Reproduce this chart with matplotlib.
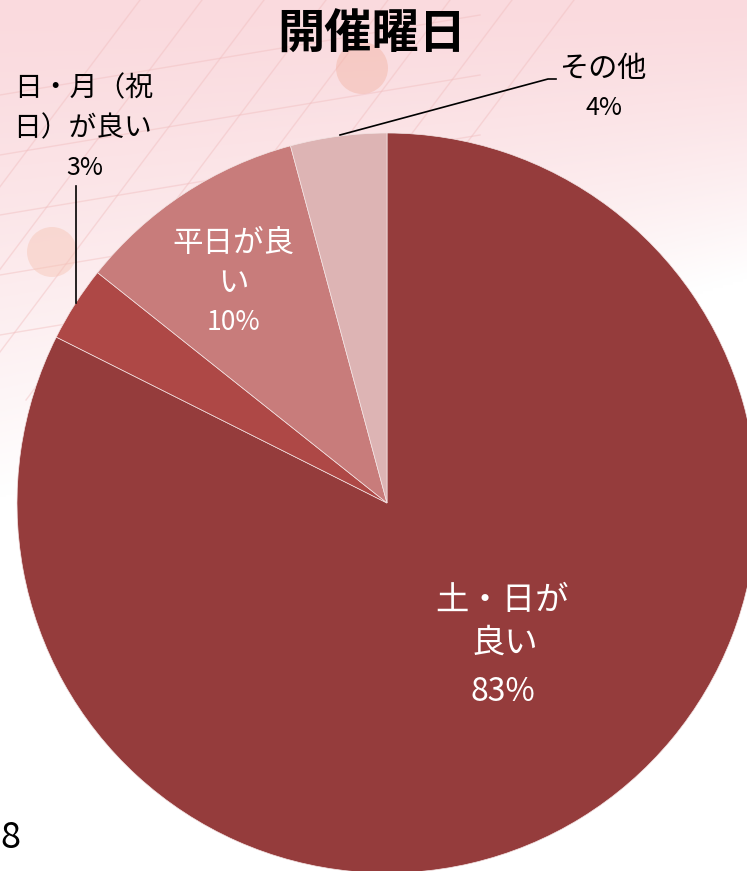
import numpy as np
import matplotlib
matplotlib.use("Agg")
import matplotlib.pyplot as plt
from matplotlib.patches import Circle

plt.rcParams['font.family'] = ['Noto Sans CJK JP', 'DejaVu Sans']

# data
labels = [['土・日が', '良い'], ['日・月（祝', '日）が良い'], ['平日が良', 'い'], ['その他']]
values = [82.4, 3.3, 10.1, 4.2]
pct_text = ['83%', '3%', '10%', '4%']
colors = ['#953C3C', '#AE4846', '#C87C7B', '#DDB4B4']
title = '開催曜日'

W, H = 747, 871
fig = plt.figure(figsize=(W / 100, H / 100), dpi=100)
ax = fig.add_axes([0, 0, 1, 1])

# background gradient (pink at top fading to white)
yy = np.linspace(0, 1, 300)[:, None]
xx = np.linspace(0, 1, 300)[None, :]
fade = np.clip(yy / (0.32 + 0.25 * (1 - xx)), 0, 1) ** 1.3
top = np.array([250, 218, 222]) / 255
bg = top[None, None, :] * (1 - fade[..., None]) + fade[..., None]
ax.imshow(bg, extent=[0, W, 0, H], origin='upper', zorder=0, aspect='auto')

# faint decorative lines and dots
for k in range(8):
    x0 = -160 + k * 62
    ax.plot([x0, x0 + 300], [H - 400, H], color='#F1BDBE', lw=1, alpha=0.45, zorder=1)
for k in range(5):
    y0 = H - 15 - k * 60
    ax.plot([0, 480], [y0 - 80, y0], color='#F1BDBE', lw=1, alpha=0.45, zorder=1)
ax.add_patch(Circle((362, H - 68), 26, color='#F3B4A4', alpha=0.45, lw=0, zorder=1))
ax.add_patch(Circle((52, H - 252), 25, color='#F6C4B4', alpha=0.45, lw=0, zorder=1))

cx, cy, r = 387, H - 503, 370
wedges, _ = ax.pie(values, colors=colors, startangle=90, counterclock=False,
                   center=(cx, cy), radius=r, frame=True,
                   wedgeprops=dict(linewidth=0.5, edgecolor='#F4E4E4'))
for w in wedges:
    w.set_zorder(2)


def put(x, y, s, size, color):
    ax.text(x, H - y, s, ha='center', va='center', color=color,
            fontsize=size, zorder=3)


# 土・日が良い
put(502, 601, labels[0][0], 24, 'white')
put(505, 643, labels[0][1], 24, 'white')
put(503, 692, pct_text[0], 23, 'white')
# 平日が良い
put(233, 243, labels[2][0], 22, 'white')
put(233, 283, labels[2][1], 22, 'white')
put(233, 322, pct_text[2], 19, 'white')
# 日・月（祝日）が良い
put(84, 88, labels[1][0], 20, 'black')
put(83, 128, labels[1][1], 20, 'black')
put(85, 168, pct_text[1], 18, 'black')
ax.plot([76, 76], [H - 186, H - 303], color='black', lw=1.2, zorder=3)
# その他
put(603, 69, labels[3][0], 21, 'black')
put(604, 108, pct_text[3], 18, 'black')
ax.plot([340, 548, 556], [H - 135, H - 79, H - 79], color='black', lw=1.2, zorder=3)

ax.text(372, H - 35, title, ha='center', va='center', color='black',
        fontsize=34, fontweight='bold', zorder=3)

# page number at the left edge
ax.text(0, H - 838, '8', ha='left', va='center', color='black', fontsize=26, zorder=3)

ax.set_xlim(0, W)
ax.set_ylim(0, H)
ax.set_aspect('auto')
ax.axis('off')

fig.savefig('out.png', dpi=100)
